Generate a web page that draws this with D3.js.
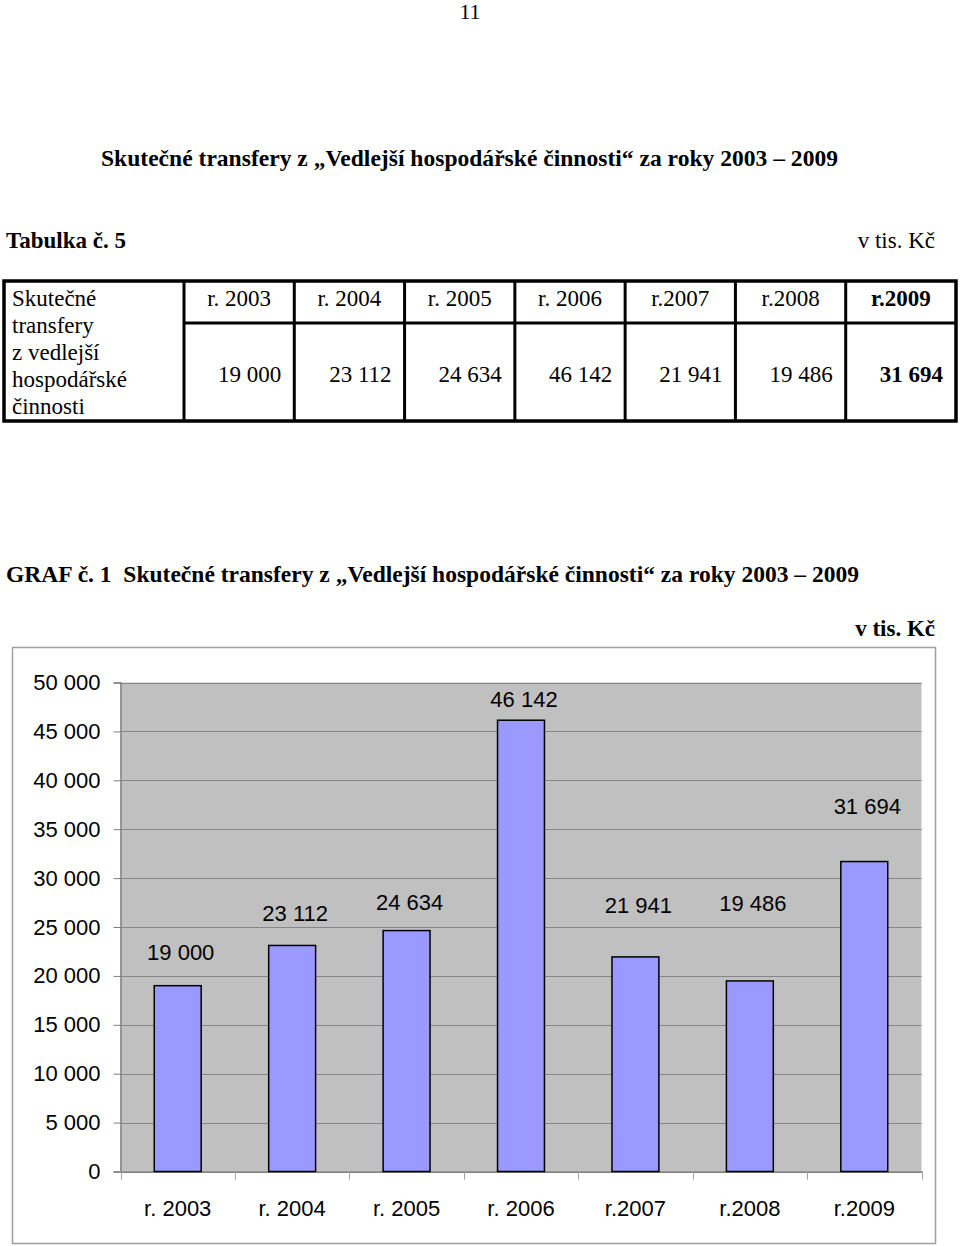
<!doctype html>
<html>
<head>
<meta charset="utf-8">
<title>Skutečné transfery z Vedlejší hospodářské činnosti</title>
<style>
  body { margin: 0; background: #fff; }
  svg { display: block; }
</style>
</head>
<body>
<script src="https://d3js.org/d3.v7.min.js"></script>
<script>
// data
var years = ["r. 2003", "r. 2004", "r. 2005", "r. 2006", "r.2007", "r.2008", "r.2009"];
var transfers = [19000, 23112, 24634, 46142, 21941, 19486, 31694];
// where Excel left each data label (in value units)
var labelAt = [22450, 26450, 27550, 48350, 27300, 27500, 37350];
var yTicks = [0, 5000, 10000, 15000, 20000, 25000, 30000, 35000, 40000, 45000, 50000];
var rowLabel = ["Skutečné", "transfery", "z vedlejší", "hospodářské", "činnosti"];

var cz = d3.formatLocale({ decimal: ",", thousands: " ", grouping: [3], currency: ["", " Kč"] });
var fmt = cz.format(",d");

var serif = "'Liberation Serif', 'Times New Roman', serif";
var sans = "'Liberation Sans', Arial, sans-serif";

var svg = d3.select("body").append("svg")
    .attr("width", 960)
    .attr("height", 1246);

// page number
svg.append("text")
    .attr("x", 470).attr("y", 19)
    .attr("text-anchor", "middle")
    .style("font-family", serif).style("font-size", "22px")
    .text("11");

// heading
svg.append("text")
    .attr("x", 101).attr("y", 166)
    .attr("textLength", 737).attr("lengthAdjust", "spacingAndGlyphs")
    .style("font-family", serif).style("font-size", "23px").style("font-weight", "bold")
    .text("Skutečné transfery z „Vedlejší hospodářské činnosti“ za roky 2003 – 2009");

svg.append("text")
    .attr("x", 6).attr("y", 248)
    .style("font-family", serif).style("font-size", "23px").style("font-weight", "bold")
    .text("Tabulka č. 5");

svg.append("text")
    .attr("x", 935).attr("y", 248)
    .attr("text-anchor", "end")
    .style("font-family", serif).style("font-size", "23px")
    .text("v tis. Kč");

// ---- table ----
var tbl = { left: 4, top: 281, right: 956, bottom: 421, firstCol: 184, headBottom: 323 };
var colX = d3.scaleBand()
    .domain(years)
    .range([tbl.firstCol, tbl.right]);

var t = svg.append("g");

t.selectAll("text.head")
    .data(years)
    .enter().append("text")
    .attr("class", "head")
    .attr("x", function(d) { return colX(d) + colX.bandwidth() / 2; })
    .attr("y", 306)
    .attr("text-anchor", "middle")
    .style("font-family", serif).style("font-size", "23px")
    .style("font-weight", function(d, i) { return i === years.length - 1 ? "bold" : "normal"; })
    .text(function(d) { return d; });

t.selectAll("text.val")
    .data(transfers)
    .enter().append("text")
    .attr("class", "val")
    .attr("x", function(d, i) { return colX(years[i]) + colX.bandwidth() - 13; })
    .attr("y", 382)
    .attr("text-anchor", "end")
    .style("font-family", serif).style("font-size", "23px")
    .style("font-weight", function(d, i) { return i === years.length - 1 ? "bold" : "normal"; })
    .text(function(d) { return fmt(d); });

t.selectAll("text.row")
    .data(rowLabel)
    .enter().append("text")
    .attr("class", "row")
    .attr("x", 12)
    .attr("y", function(d, i) { return 306 + i * 27; })
    .style("font-family", serif).style("font-size", "23px")
    .text(function(d) { return d; });

// table lines
t.append("line")
    .attr("x1", tbl.firstCol).attr("x2", tbl.right)
    .attr("y1", tbl.headBottom).attr("y2", tbl.headBottom)
    .attr("stroke", "#000").attr("stroke-width", 3);

t.selectAll("line.col")
    .data(years)
    .enter().append("line")
    .attr("class", "col")
    .attr("x1", function(d) { return colX(d); })
    .attr("x2", function(d) { return colX(d); })
    .attr("y1", tbl.top).attr("y2", tbl.bottom)
    .attr("stroke", "#000").attr("stroke-width", 3);

t.append("rect")
    .attr("x", tbl.left).attr("y", tbl.top)
    .attr("width", tbl.right - tbl.left).attr("height", tbl.bottom - tbl.top)
    .attr("fill", "none").attr("stroke", "#000").attr("stroke-width", 3.5);

// ---- chart ----
svg.append("text")
    .attr("x", 6).attr("y", 582)
    .attr("textLength", 853).attr("lengthAdjust", "spacingAndGlyphs")
    .attr("xml:space", "preserve")
    .style("white-space", "pre")
    .style("font-family", serif).style("font-size", "23px").style("font-weight", "bold")
    .text("GRAF č. 1  Skutečné transfery z „Vedlejší hospodářské činnosti“ za roky 2003 – 2009");

svg.append("text")
    .attr("x", 935).attr("y", 636)
    .attr("text-anchor", "end")
    .style("font-family", serif).style("font-size", "23px").style("font-weight", "bold")
    .text("v tis. Kč");

// chart frame
svg.append("rect")
    .attr("x", 12.5).attr("y", 647.5)
    .attr("width", 923).attr("height", 596)
    .attr("fill", "#fff")
    .attr("stroke", "#a0a0a0").attr("stroke-width", 1.5);

var plot = { left: 120.5, top: 682.5, right: 921.5, bottom: 1171.5 };

var x = d3.scaleBand()
    .domain(years)
    .range([plot.left, plot.right]);

var y = d3.scaleLinear()
    .domain([0, 50000])
    .range([plot.bottom, plot.top]);

var g = svg.append("g");

// plot background
g.append("rect")
    .attr("x", plot.left).attr("y", plot.top)
    .attr("width", plot.right - plot.left).attr("height", plot.bottom - plot.top)
    .attr("fill", "#c0c0c0");

// gridlines
g.selectAll("line.grid")
    .data(yTicks)
    .enter().append("line")
    .attr("class", "grid")
    .attr("x1", plot.left).attr("x2", plot.right)
    .attr("y1", function(d) { return Math.round(y(d)) + 0.5; })
    .attr("y2", function(d) { return Math.round(y(d)) + 0.5; })
    .attr("stroke", "#868686").attr("stroke-width", 1);

// y axis
var yAxis = g.append("g")
    .attr("transform", "translate(" + plot.left + ",0)")
    .call(d3.axisLeft(y).tickValues(yTicks).tickSize(7).tickPadding(13)
        .tickFormat(function(d) { return fmt(d); }));
yAxis.select(".domain").attr("stroke", "#808080").attr("stroke-width", 1.5);
yAxis.selectAll(".tick line").attr("stroke", "#808080");
yAxis.selectAll(".tick text")
    .attr("fill", "#000")
    .style("font-family", sans).style("font-size", "22px");

// x axis
var xAxis = g.append("g")
    .attr("transform", "translate(0," + plot.bottom + ")")
    .call(d3.axisBottom(x).tickSize(0).tickPadding(29));
xAxis.select(".domain").attr("stroke", "#808080").attr("stroke-width", 1.5);
xAxis.selectAll(".tick text")
    .attr("fill", "#000")
    .style("font-family", sans).style("font-size", "22px");

// category boundary ticks
var edges = years.map(function(d) { return x(d); }).concat([x(years[years.length - 1]) + x.bandwidth()]);
g.selectAll("line.xtick")
    .data(edges)
    .enter().append("line")
    .attr("class", "xtick")
    .attr("x1", function(d) { return Math.round(d) + 0.5; })
    .attr("x2", function(d) { return Math.round(d) + 0.5; })
    .attr("y1", plot.bottom).attr("y2", plot.bottom + 8)
    .attr("stroke", "#a0a0a0");

// bars
var barW = x.bandwidth() * 0.41;
g.selectAll("rect.bar")
    .data(transfers)
    .enter().append("rect")
    .attr("class", "bar")
    .attr("x", function(d, i) { return x(years[i]) + (x.bandwidth() - barW) / 2; })
    .attr("y", function(d) { return y(d); })
    .attr("width", barW)
    .attr("height", function(d) { return y(0) - y(d); })
    .attr("fill", "#9999ff")
    .attr("stroke", "#000").attr("stroke-width", 1.5);

// data labels
g.selectAll("text.lbl")
    .data(transfers)
    .enter().append("text")
    .attr("class", "lbl")
    .attr("x", function(d, i) { return x(years[i]) + x.bandwidth() / 2 + 3; })
    .attr("y", function(d, i) { return y(labelAt[i]) + 8; })
    .attr("text-anchor", "middle")
    .style("font-family", sans).style("font-size", "22px")
    .text(function(d) { return fmt(d); });
</script>
</body>
</html>
